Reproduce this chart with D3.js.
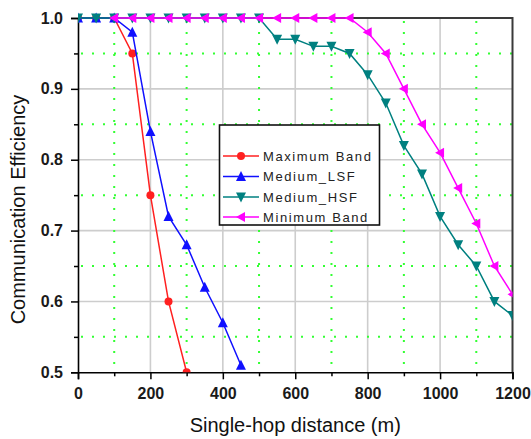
<!DOCTYPE html>
<html>
<head>
<meta charset="utf-8">
<script src="https://cdn.jsdelivr.net/npm/d3@7"></script>
<style>
  html, body { margin: 0; padding: 0; background: #fff; }
  svg { display: block; font-family: "Liberation Sans", Arial, sans-serif; }
</style>
</head>
<body>
<svg id="chart" width="531" height="439"></svg>
<script>
// ---- data ----
const seriesNames = ["Maximum Band", "Medium_LSF", "Medium_HSF", "Minimum Band"];
const maxBandX = [0, 50, 100, 150, 200, 250, 300];
const maxBandY = [1.0, 1.0, 1.0, 0.95, 0.75, 0.60, 0.50];
const lsfX = [0, 50, 100, 150, 200, 250, 300, 350, 400, 450];
const lsfY = [1.0, 1.0, 1.0, 0.98, 0.84, 0.72, 0.68, 0.62, 0.57, 0.51];
const hsfX = [0, 50, 100, 150, 200, 250, 300, 350, 400, 450, 500, 550, 600, 650, 700, 750, 800, 850, 900, 950, 1000, 1050, 1100, 1150, 1200];
const hsfY = [1.0, 1.0, 1.0, 1.0, 1.0, 1.0, 1.0, 1.0, 1.0, 1.0, 1.0, 0.97, 0.97, 0.96, 0.96, 0.95, 0.92, 0.88, 0.82, 0.78, 0.72, 0.68, 0.65, 0.60, 0.58];
const minBandX = [100, 150, 200, 250, 300, 350, 400, 450, 500, 550, 600, 650, 700, 750, 800, 850, 900, 950, 1000, 1050, 1100, 1150, 1200];
const minBandY = [1.0, 1.0, 1.0, 1.0, 1.0, 1.0, 1.0, 1.0, 1.0, 1.0, 1.0, 1.0, 1.0, 1.0, 0.98, 0.95, 0.90, 0.85, 0.81, 0.76, 0.71, 0.65, 0.61];
const xTicks = [0, 200, 400, 600, 800, 1000, 1200];
const xMinorTicks = [100, 300, 500, 700, 900, 1100];
const yTicks = [0.5, 0.6, 0.7, 0.8, 0.9, 1.0];
const yMinorTicks = [0.55, 0.65, 0.75, 0.85, 0.95];
const xTitle = "Single-hop distance (m)";
const yTitle = "Communication Efficiency";

// ---- layout ----
const L = 78, R = 512.5, T = 18, B = 372.3;
const svg = d3.select("#chart");
const x = d3.scaleLinear().domain([0, 1200]).range([L, R]);
const y = d3.scaleLinear().domain([0.5, 1.0]).range([B, T]);

// grid
const grid = svg.append("g");
grid.selectAll("line.vmaj").data(xTicks.slice(1, -1)).enter().append("line")
  .attr("x1", d => x(d)).attr("x2", d => x(d)).attr("y1", T).attr("y2", B)
  .attr("stroke", "#cdcdcd").attr("stroke-width", 1.6);
grid.selectAll("line.hmaj").data(yTicks.slice(1, -1)).enter().append("line")
  .attr("x1", L).attr("x2", R).attr("y1", d => y(d)).attr("y2", d => y(d))
  .attr("stroke", "#cdcdcd").attr("stroke-width", 1.6);
grid.selectAll("line.vmin").data(xMinorTicks).enter().append("line")
  .attr("x1", d => x(d)).attr("x2", d => x(d)).attr("y1", T + 3).attr("y2", B)
  .attr("stroke", "#33ff33").attr("stroke-width", 2).attr("stroke-dasharray", "2,9");
grid.selectAll("line.hmin").data(yMinorTicks).enter().append("line")
  .attr("x1", L + 3).attr("x2", R).attr("y1", d => y(d)).attr("y2", d => y(d))
  .attr("stroke", "#33ff33").attr("stroke-width", 2).attr("stroke-dasharray", "2,9");

// frame (top & right)
svg.append("path")
  .attr("d", `M${L},${T}H${R}V${B}`)
  .attr("fill", "none").attr("stroke", "#3a3a3a").attr("stroke-width", 2);

// axes
const xAxis = svg.append("g").attr("transform", `translate(0,${B})`)
  .call(d3.axisBottom(x).tickValues(xTicks).tickSize(7).tickPadding(8).tickFormat(d3.format("d")));
const xMinor = svg.append("g").attr("transform", `translate(0,${B})`)
  .call(d3.axisBottom(x).tickValues(xMinorTicks).tickSize(4).tickFormat(""));
const yAxis = svg.append("g").attr("transform", `translate(${L},0)`)
  .call(d3.axisLeft(y).tickValues(yTicks).tickSize(7).tickPadding(8).tickFormat(d3.format(".1f")));
const yMinor = svg.append("g").attr("transform", `translate(${L},0)`)
  .call(d3.axisLeft(y).tickValues(yMinorTicks).tickSize(4).tickFormat(""));
[xAxis, yAxis, xMinor, yMinor].forEach(g => {
  g.select(".domain").attr("stroke", "#000").attr("stroke-width", 1.6);
  g.selectAll(".tick line").attr("stroke", "#000").attr("stroke-width", 1.5);
  g.selectAll(".tick text").attr("font-family", "'Liberation Sans', Arial, sans-serif")
    .attr("font-size", 16).attr("font-weight", "bold").attr("fill", "#1a1a1a");
});
xMinor.select(".domain").remove();
yMinor.select(".domain").remove();

// titles
svg.append("text").attr("x", (L + R) / 2 + 0).attr("y", 432)
  .attr("text-anchor", "middle").attr("font-size", 20).attr("fill", "#111").text(xTitle);
svg.append("text").attr("transform", `translate(25,${209.5}) rotate(-90)`)
  .attr("text-anchor", "middle").attr("font-size", 20).attr("fill", "#111").text(yTitle);

// clip
svg.append("clipPath").attr("id", "plotclip").append("rect")
  .attr("x", L).attr("y", T - 8).attr("width", R - L).attr("height", B - T + 8);

const plot = svg.append("g").attr("clip-path", "url(#plotclip)");

const colors = ["#ff2020", "#1010ff", "#008080", "#ff00ff"];
const shapes = ["circle", "up", "down", "left"];
const datasets = [
  maxBandX.map((d, i) => [d, maxBandY[i]]),
  lsfX.map((d, i) => [d, lsfY[i]]),
  hsfX.map((d, i) => [d, hsfY[i]]),
  minBandX.map((d, i) => [d, minBandY[i]])
];

function markerPath(shape) {
  const s = 5;
  if (shape === "up") return `M0,${-s - 0.5}L${s},${s - 0.5}L${-s},${s - 0.5}Z`;
  if (shape === "down") return `M0,${s + 0.5}L${s},${-s + 0.5}L${-s},${-s + 0.5}Z`;
  if (shape === "left") return `M${-s},0L${s - 1},${-s}L${s - 1},${s}Z`;
  return null;
}
function drawMarker(g, shape, color, cx, cy) {
  if (shape === "circle") {
    g.append("circle").attr("cx", cx).attr("cy", cy).attr("r", 4).attr("fill", color);
  } else {
    g.append("path").attr("d", markerPath(shape)).attr("transform", `translate(${cx},${cy})`).attr("fill", color);
  }
}

const line = d3.line().x(d => x(d[0])).y(d => y(d[1]));
datasets.forEach((data, k) => {
  const g = plot.append("g");
  g.append("path").datum(data).attr("d", line).attr("fill", "none")
    .attr("stroke", colors[k]).attr("stroke-width", 1.5);
  data.forEach(d => drawMarker(g, shapes[k], colors[k], x(d[0]), y(d[1])));
});

// legend
const lg = svg.append("g");
lg.append("rect").attr("x", 219.5).attr("y", 125).attr("width", 160).attr("height", 100)
  .attr("fill", "#fff").attr("stroke", "#111").attr("stroke-width", 1.6);
const legY = [156, 176.5, 197, 217];
seriesNames.forEach((name, k) => {
  lg.append("line").attr("x1", 223).attr("x2", 259).attr("y1", legY[k]).attr("y2", legY[k])
    .attr("stroke", colors[k]).attr("stroke-width", 1.5);
  drawMarker(lg, shapes[k], colors[k], 241, legY[k]);
  lg.append("text").attr("x", 263).attr("y", legY[k] + 4.5).attr("font-size", 13)
    .attr("letter-spacing", "1.6px").attr("fill", "#222").text(name);
});
</script>
</body>
</html>
